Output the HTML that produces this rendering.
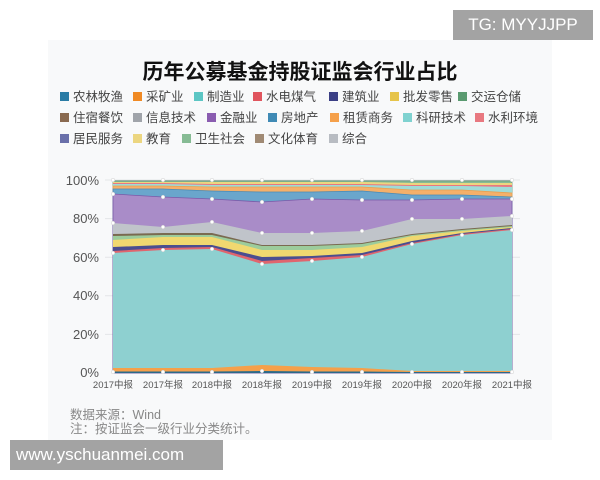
<!DOCTYPE html>
<html><head><meta charset="utf-8"><style>
body{margin:0;width:600px;height:480px;background:#fff;position:relative;overflow:hidden;font-family:"Liberation Sans","Noto Sans CJK SC",sans-serif}
.panel{position:absolute;left:48px;top:40px;width:504px;height:400px;background:#f8f9fa}
.tg{position:absolute;left:453px;top:10px;width:140px;height:30px;background:#a3a3a3;color:#fff;font-size:17px;line-height:30px;text-align:center}
.web{position:absolute;left:10px;top:440px;width:213px;height:30px;background:#a3a3a3;color:#fff;font-size:17px;line-height:30px;padding-left:6px;box-sizing:border-box}
.title{position:absolute;left:0;width:600px;top:56px;text-align:center;font-size:21px;font-weight:bold;color:#111}
.lg{position:absolute;font-size:12.5px;color:#444;white-space:nowrap;line-height:14px}
.lg i{display:inline-block;width:9px;height:9px;margin-right:4px;vertical-align:0}
.ft{position:absolute;left:70px;font-size:12.5px;color:#888}
</style></head><body>
<div class="panel"></div>
<div class="tg">TG: MYYJJPP</div>
<div class="title">历年公募基金持股证监会行业占比</div>
<div class="lg" style="left:60px;top:90px"><i style="background:#2a7ca5"></i>农林牧渔</div>
<div class="lg" style="left:133px;top:90px"><i style="background:#f08a24"></i>采矿业</div>
<div class="lg" style="left:194px;top:90px"><i style="background:#5cc6c4"></i>制造业</div>
<div class="lg" style="left:253px;top:90px"><i style="background:#e0555e"></i>水电煤气</div>
<div class="lg" style="left:329px;top:90px"><i style="background:#3b3f85"></i>建筑业</div>
<div class="lg" style="left:390px;top:90px"><i style="background:#e6c44a"></i>批发零售</div>
<div class="lg" style="left:458px;top:90px"><i style="background:#5a9a70"></i>交运仓储</div>
<div class="lg" style="left:60px;top:111px"><i style="background:#8a6a50"></i>住宿餐饮</div>
<div class="lg" style="left:133px;top:111px"><i style="background:#a0a4aa"></i>信息技术</div>
<div class="lg" style="left:207px;top:111px"><i style="background:#8a5cb0"></i>金融业</div>
<div class="lg" style="left:268px;top:111px"><i style="background:#3f8ab5"></i>房地产</div>
<div class="lg" style="left:330px;top:111px"><i style="background:#f5a04a"></i>租赁商务</div>
<div class="lg" style="left:403px;top:111px"><i style="background:#7fd2d0"></i>科研技术</div>
<div class="lg" style="left:475px;top:111px"><i style="background:#e87880"></i>水利环境</div>
<div class="lg" style="left:60px;top:132px"><i style="background:#6a70aa"></i>居民服务</div>
<div class="lg" style="left:133px;top:132px"><i style="background:#ecd680"></i>教育</div>
<div class="lg" style="left:182px;top:132px"><i style="background:#86bb94"></i>卫生社会</div>
<div class="lg" style="left:255px;top:132px"><i style="background:#a08a74"></i>文化体育</div>
<div class="lg" style="left:329px;top:132px"><i style="background:#b8bcc2"></i>综合</div>
<svg style="position:absolute;left:0;top:0" width="600" height="480" font-family="Liberation Sans,Noto Sans CJK SC,sans-serif">
<g stroke="#e4e6e8" stroke-width="1">
<line x1="105" x2="520" y1="180" y2="180"/><line x1="105" x2="520" y1="218.6" y2="218.6"/><line x1="105" x2="520" y1="257.2" y2="257.2"/><line x1="105" x2="520" y1="295.8" y2="295.8"/><line x1="105" x2="520" y1="334.4" y2="334.4"/>
</g>
<g font-size="13" fill="#555" text-anchor="end">
<text x="99" y="185">100%</text><text x="99" y="223">80%</text><text x="99" y="262">60%</text><text x="99" y="300">40%</text><text x="99" y="339">20%</text><text x="99" y="377">0%</text>
</g>
<g stroke-width="0.8">
<polygon fill="#b8bcc2" points="113,180 163,180 212,180 262,180 312,180 362,180 412,180 462,180 512,180 512,373 113,373"/>
<polygon fill="#86bb94" stroke="#6a9a78" points="113,181 163,181 212,181 262,181 312,181 362,181 412,181 462,181 512,181 512,373 113,373"/>
<polygon fill="#ecd680" points="113,182 163,182 212,182 262,182 312,182 362,182 412,183 462,183 512,183 512,373 113,373"/>
<polygon fill="#e87880" points="113,183 163,183 212,184 262,184 312,184 362,184 412,185 462,185 512,185 512,373 113,373"/>
<polygon fill="#9fdbd8" points="113,184 163,184 212,185 262,185 312,185 362,185 412,186 462,186 512,187 512,373 113,373"/>
<polygon fill="#f5b06a" stroke="#e8a050" points="113,186 163,186 212,187 262,187 312,187 362,187 412,190 462,190 512,193 512,373 113,373"/>
<polygon fill="#6aa6cc" stroke="#4a8ab5" points="113,189 163,189 212,191 262,192 312,192 362,191 412,195 462,195 512,197 512,373 113,373"/>
<polygon fill="#a98cc8" stroke="#7a5aa8" points="113,194 163,197 212,199 262,202 312,199 362,200 412,200 462,199 512,199 512,373 113,373"/>
<polygon fill="#c0c4ca" points="113,223 163,227 212,222 262,233 312,233 362,231 412,219 462,219 512,216 512,373 113,373"/>
<polygon fill="#7a6a50" points="113,234 163,233 212,233 262,245 312,245 362,243 412,234 462,229 512,225 512,373 113,373"/>
<polygon fill="#9ccc9c" points="113,236 163,235 212,235 262,246 312,246 362,244 412,235 462,230 512,226 512,373 113,373"/>
<polygon fill="#f0d870" points="113,240 163,237 212,237 262,250 312,250 362,247 412,236 462,231 512,227 512,373 113,373"/>
<polygon fill="#4a4e90" points="113,247 163,245 212,245 262,257 312,256 362,253 412,241 462,233 512,228 512,373 113,373"/>
<polygon fill="#e0656e" points="113,251 163,248 212,247 262,261 312,258 362,255 412,243 462,234 512,229 512,373 113,373"/>
<polygon fill="#8ed0d0" points="113,253 163,250 212,249 262,264 312,261 362,257 412,244 462,235 512,230 512,373 113,373"/>
<polygon fill="#f5a04a" points="113,368 163,368 212,368 262,365 312,367 362,368 412,371 462,371 512,371 512,373 113,373"/>
<polygon fill="#2a6a8a" points="113,371.5 163,371.5 212,371.5 262,371 312,371.5 362,371.5 412,372 462,372 512,372 512,373 113,373"/>
</g>
<g fill="#fff" stroke="#ccc" stroke-width="0.5">
<circle cx="113" cy="180" r="1.8"/><circle cx="163" cy="180" r="1.8"/><circle cx="212" cy="180" r="1.8"/><circle cx="262" cy="180" r="1.8"/><circle cx="312" cy="180" r="1.8"/><circle cx="362" cy="180" r="1.8"/><circle cx="412" cy="180" r="1.8"/><circle cx="462" cy="180" r="1.8"/><circle cx="512" cy="180" r="1.8"/>
<circle cx="113" cy="194" r="1.8"/><circle cx="163" cy="197" r="1.8"/><circle cx="212" cy="199" r="1.8"/><circle cx="262" cy="202" r="1.8"/><circle cx="312" cy="199" r="1.8"/><circle cx="362" cy="200" r="1.8"/><circle cx="412" cy="200" r="1.8"/><circle cx="462" cy="199" r="1.8"/><circle cx="512" cy="199" r="1.8"/>
<circle cx="113" cy="223" r="1.8"/><circle cx="163" cy="227" r="1.8"/><circle cx="212" cy="222" r="1.8"/><circle cx="262" cy="233" r="1.8"/><circle cx="312" cy="233" r="1.8"/><circle cx="362" cy="231" r="1.8"/><circle cx="412" cy="219" r="1.8"/><circle cx="462" cy="219" r="1.8"/><circle cx="512" cy="216" r="1.8"/>
<circle cx="113" cy="253" r="1.8"/><circle cx="163" cy="250" r="1.8"/><circle cx="212" cy="249" r="1.8"/><circle cx="262" cy="264" r="1.8"/><circle cx="312" cy="261" r="1.8"/><circle cx="362" cy="257" r="1.8"/><circle cx="412" cy="244" r="1.8"/><circle cx="462" cy="235" r="1.8"/><circle cx="512" cy="230" r="1.8"/>
<circle cx="113" cy="372" r="1.8"/><circle cx="163" cy="372" r="1.8"/><circle cx="212" cy="372" r="1.8"/><circle cx="262" cy="371" r="1.8"/><circle cx="312" cy="372" r="1.8"/><circle cx="362" cy="372" r="1.8"/><circle cx="412" cy="372" r="1.8"/><circle cx="462" cy="372" r="1.8"/><circle cx="512" cy="372" r="1.8"/>
</g>
<g font-size="9.5" fill="#555" text-anchor="middle">
<text x="113" y="388">2017中报</text><text x="163" y="388">2017年报</text><text x="212" y="388">2018中报</text><text x="262" y="388">2018年报</text><text x="312" y="388">2019中报</text><text x="362" y="388">2019年报</text><text x="412" y="388">2020中报</text><text x="462" y="388">2020年报</text><text x="512" y="388">2021中报</text>
</g>
</svg>
<div class="ft" style="top:404px">数据来源：Wind</div>
<div class="ft" style="top:418px">注：按证监会一级行业分类统计。</div>
<div class="web">www.yschuanmei.com</div>
</body></html>
